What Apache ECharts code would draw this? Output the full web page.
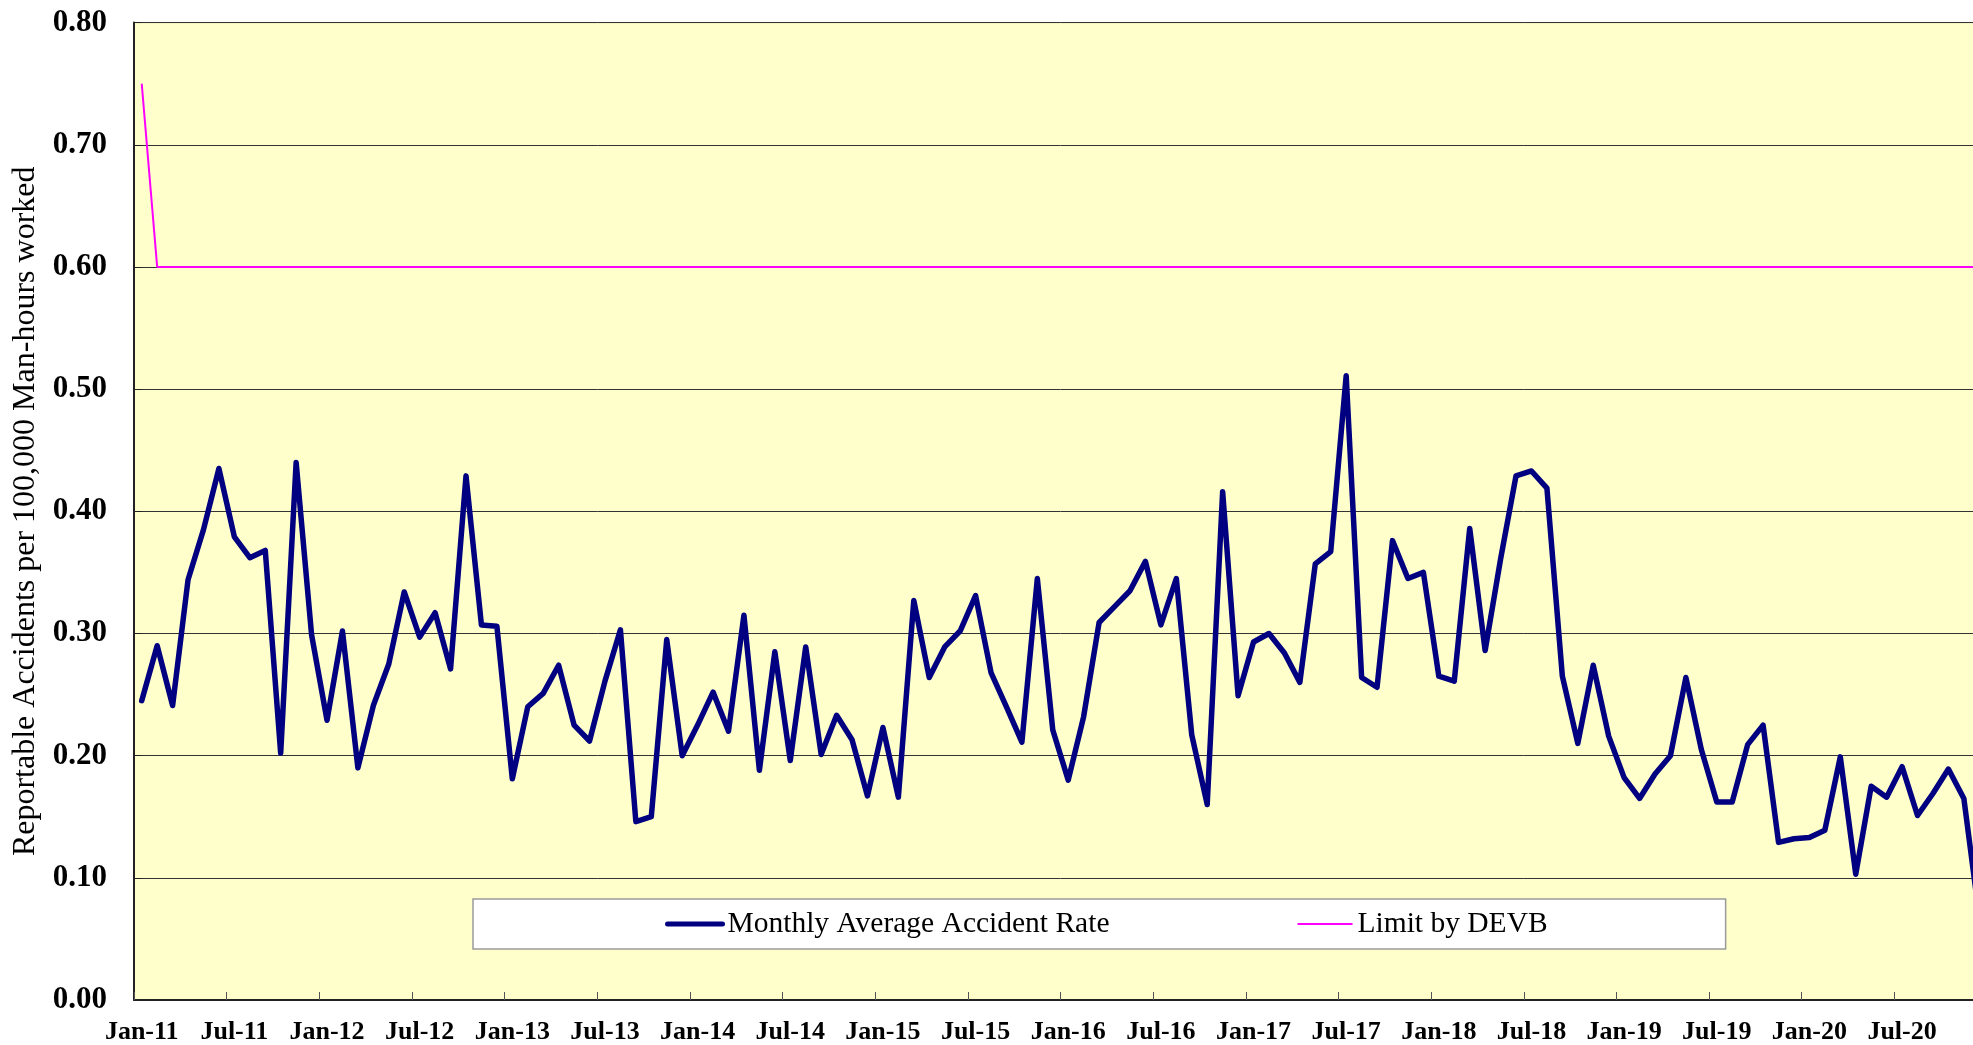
<!DOCTYPE html>
<html lang="en">
<head>
    <meta http-equiv="Content-Type" content="text/html;charset=utf-8">
    <title>Monthly Average Accident Rate</title>
    <script type="text/javascript" src="https://cdn.jsdelivr.net/npm/echarts@6/dist/echarts.min.js"></script>
    <style>
        html, body { margin: 0; padding: 0; overflow: hidden; background: #fff; }
    </style>
</head>
<body>
<div id="main" style="width: 2000px;height:1045px;"></div>
<script>
    // month names and years for the category axis (Jan-11 ... Dec-20)
    var monthNames = ['Jan', 'Feb', 'Mar', 'Apr', 'May', 'Jun', 'Jul', 'Aug', 'Sep', 'Oct', 'Nov', 'Dec'];
    var years = ['11', '12', '13', '14', '15', '16', '17', '18', '19', '20'];

    // reportable accidents per 100,000 man-hours worked
    var rate2011 = [0.245, 0.290, 0.241, 0.344, 0.385, 0.435, 0.379, 0.362, 0.368, 0.202, 0.440, 0.299];
    var rate2012 = [0.229, 0.302, 0.190, 0.241, 0.275, 0.334, 0.297, 0.317, 0.271, 0.429, 0.307, 0.306];
    var rate2013 = [0.181, 0.240, 0.251, 0.274, 0.225, 0.212, 0.261, 0.303, 0.146, 0.150, 0.295, 0.200];
    var rate2014 = [0.225, 0.252, 0.220, 0.315, 0.188, 0.285, 0.196, 0.289, 0.201, 0.233, 0.213, 0.167];
    var rate2015 = [0.223, 0.166, 0.327, 0.264, 0.289, 0.302, 0.331, 0.268, 0.240, 0.211, 0.345, 0.221];
    var rate2016 = [0.180, 0.232, 0.309, 0.322, 0.335, 0.359, 0.307, 0.345, 0.217, 0.160, 0.416, 0.249];
    var rate2017 = [0.293, 0.300, 0.284, 0.260, 0.357, 0.367, 0.511, 0.264, 0.256, 0.376, 0.345, 0.350];
    var rate2018 = [0.265, 0.261, 0.386, 0.286, 0.361, 0.429, 0.433, 0.419, 0.265, 0.210, 0.274, 0.216];
    var rate2019 = [0.182, 0.165, 0.185, 0.200, 0.264, 0.205, 0.162, 0.162, 0.209, 0.225, 0.129, 0.132];
    var rate2020 = [0.133, 0.139, 0.199, 0.103, 0.175, 0.166, 0.191, 0.151, 0.169, 0.189, 0.165, 0.068];

    // DEVB limit
    var limit2011 = [0.75, 0.60, 0.60, 0.60, 0.60, 0.60, 0.60, 0.60, 0.60, 0.60, 0.60, 0.60];
    var limit2012 = [0.60, 0.60, 0.60, 0.60, 0.60, 0.60, 0.60, 0.60, 0.60, 0.60, 0.60, 0.60];
    var limit2013 = [0.60, 0.60, 0.60, 0.60, 0.60, 0.60, 0.60, 0.60, 0.60, 0.60, 0.60, 0.60];
    var limit2014 = [0.60, 0.60, 0.60, 0.60, 0.60, 0.60, 0.60, 0.60, 0.60, 0.60, 0.60, 0.60];
    var limit2015 = [0.60, 0.60, 0.60, 0.60, 0.60, 0.60, 0.60, 0.60, 0.60, 0.60, 0.60, 0.60];
    var limit2016 = [0.60, 0.60, 0.60, 0.60, 0.60, 0.60, 0.60, 0.60, 0.60, 0.60, 0.60, 0.60];
    var limit2017 = [0.60, 0.60, 0.60, 0.60, 0.60, 0.60, 0.60, 0.60, 0.60, 0.60, 0.60, 0.60];
    var limit2018 = [0.60, 0.60, 0.60, 0.60, 0.60, 0.60, 0.60, 0.60, 0.60, 0.60, 0.60, 0.60];
    var limit2019 = [0.60, 0.60, 0.60, 0.60, 0.60, 0.60, 0.60, 0.60, 0.60, 0.60, 0.60, 0.60];
    var limit2020 = [0.60, 0.60, 0.60, 0.60, 0.60, 0.60, 0.60, 0.60, 0.60, 0.60, 0.60, 0.60];

    var months = [];
    years.forEach(function (y) {
        monthNames.forEach(function (m) {
            months.push(m + '-' + y);
        });
    });

    var rate = [].concat(rate2011, rate2012, rate2013, rate2014, rate2015,
        rate2016, rate2017, rate2018, rate2019, rate2020);
    var limit = [].concat(limit2011, limit2012, limit2013, limit2014, limit2015,
        limit2016, limit2017, limit2018, limit2019, limit2020);

    var serif = '"Times New Roman", "Liberation Serif", serif';

    var myChart = echarts.init(document.getElementById('main'));

    var option = {
        backgroundColor: '#ffffff',
        animation: false,
        grid: {
            left: 134,
            right: 13,
            top: 22.6,
            bottom: 44,
            show: true,
            backgroundColor: '#FFFFCC',
            borderColor: '#8c8c8c',
            borderWidth: 1
        },
        legend: {
            left: 473,
            top: 899,
            padding: [10, 178, 10, 192],
            itemGap: 187,
            itemWidth: 55,
            itemHeight: 2,
            backgroundColor: '#ffffff',
            borderColor: '#9a9a9a',
            borderWidth: 1.5,
            textStyle: {
                fontFamily: serif,
                fontSize: 29.5,
                color: '#000'
            },
            data: [{
                name: 'Monthly Average Accident Rate',
                lineStyle: {width: 5, color: '#000080', cap: 'round'}
            }, {
                name: 'Limit by DEVB',
                lineStyle: {width: 2, color: '#FF00FF'}
            }]
        },
        xAxis: {
            type: 'category',
            data: months,
            boundaryGap: true,
            axisLine: {lineStyle: {color: '#222', width: 2}},
            axisTick: {
                show: true,
                inside: true,
                length: 8,
                interval: 5,
                lineStyle: {color: '#555', width: 1}
            },
            axisLabel: {
                interval: 5,
                margin: 19,
                fontFamily: serif,
                fontWeight: 'bold',
                fontSize: 26,
                color: '#000'
            },
            splitLine: {show: false}
        },
        yAxis: {
            type: 'value',
            min: 0,
            max: 0.8,
            interval: 0.1,
            name: 'Reportable Accidents per 100,000 Man-hours worked',
            nameLocation: 'middle',
            nameGap: 92,
            nameTextStyle: {
                fontFamily: serif,
                fontSize: 32,
                color: '#000'
            },
            axisLine: {show: true, lineStyle: {color: '#222', width: 2}},
            axisTick: {show: true, inside: true, length: 8, lineStyle: {color: '#222'}},
            axisLabel: {
                margin: 27,
                fontFamily: serif,
                fontWeight: 'bold',
                fontSize: 31,
                color: '#000',
                formatter: function (v) {
                    return v.toFixed(2);
                }
            },
            splitLine: {show: true, lineStyle: {color: '#333', width: 1}}
        },
        series: [{
            name: 'Monthly Average Accident Rate',
            type: 'line',
            data: rate,
            symbol: 'none',
            lineStyle: {color: '#000080', width: 5.5, cap: 'round', join: 'round'},
            itemStyle: {color: '#000080'},
            z: 3
        }, {
            name: 'Limit by DEVB',
            type: 'line',
            data: limit,
            symbol: 'none',
            lineStyle: {color: '#FF00FF', width: 2},
            itemStyle: {color: '#FF00FF'},
            z: 2
        }]
    };
    myChart.setOption(option);
</script>
</body>
</html>
